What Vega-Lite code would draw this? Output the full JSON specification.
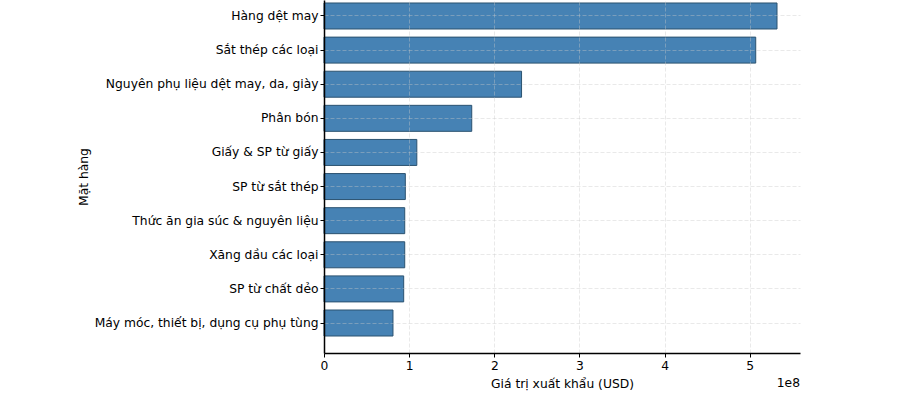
{
  "$schema": "https://vega.github.io/schema/vega-lite/v6.json",
  "width": 476,
  "height": 353,
  "autosize": {"type": "none"},
  "padding": {"left": 324, "top": 0, "right": 119, "bottom": 40},
  "background": "white",
  "config": {
    "font": "DejaVu Sans",
    "view": {"stroke": null},
    "axis": {"labelFont": "DejaVu Sans", "titleFont": "DejaVu Sans", "labelColor": "black", "titleColor": "black", "labelFontSize": 12.3, "titleFontSize": 12.3, "titleFontWeight": "normal", "labelLimit": 0}
  },
  "title": {"text": "1e8", "orient": "bottom", "anchor": "end", "frame": "group", "fontSize": 12.3, "fontWeight": "normal", "font": "DejaVu Sans", "color": "black", "offset": -13},
  "data": {"values": [
    {"item": "Hàng dệt may", "value": 532000000},
    {"item": "Sắt thép các loại", "value": 507000000},
    {"item": "Nguyên phụ liệu dệt may, da, giày", "value": 232000000},
    {"item": "Phân bón", "value": 173500000},
    {"item": "Giấy & SP từ giấy", "value": 109000000},
    {"item": "SP từ sắt thép", "value": 95500000},
    {"item": "Thức ăn gia súc & nguyên liệu", "value": 94800000},
    {"item": "Xăng dầu các loại", "value": 94800000},
    {"item": "SP từ chất dẻo", "value": 93600000},
    {"item": "Máy móc, thiết bị, dụng cụ phụ tùng", "value": 81000000}
  ]},
  "mark": {"type": "bar", "color": "#4682b4", "stroke": "#2b5270", "strokeWidth": 1},
  "encoding": {
    "y": {
      "field": "item", "type": "nominal", "sort": null,
      "scale": {"paddingInner": 0.238, "paddingOuter": 0.293, "align": 0.15},
      "axis": {"title": "Mặt hàng", "titlePadding": 34, "zindex": 1, "domainColor": "black", "domainWidth": 1.5, "tickColor": "black", "tickSize": 4, "labelPadding": 2, "grid": true, "gridColor": "#c8c8c8", "gridOpacity": 0.5, "gridDash": [4, 2], "gridWidth": 0.8}
    },
    "x": {
      "field": "value", "type": "quantitative",
      "scale": {"domain": [0, 559000000], "nice": false},
      "axis": {"title": "Giá trị xuất khẩu (USD)", "values": [0, 100000000, 200000000, 300000000, 400000000, 500000000], "labelExpr": "format(datum.value / 100000000, 'd')", "zindex": 1, "domainColor": "black", "domainWidth": 1.5, "tickColor": "black", "tickSize": 4, "labelPadding": 2, "titlePadding": 6, "grid": true, "gridColor": "#c8c8c8", "gridOpacity": 0.5, "gridDash": [4, 2], "gridWidth": 0.8, "labelFlush": false}
    }
  }
}
